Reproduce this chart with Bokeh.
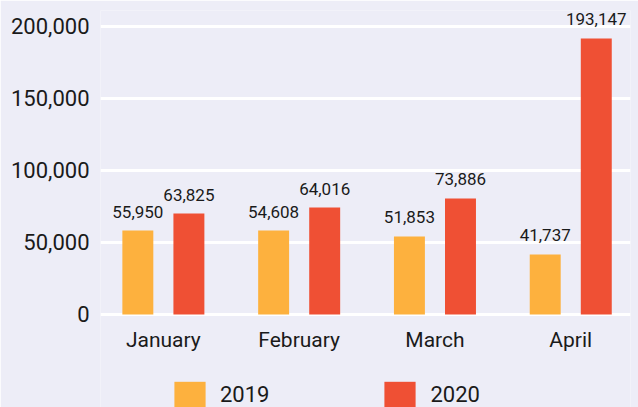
from bokeh.plotting import figure
from bokeh.models import (ColumnDataSource, Range1d, FixedTicker, Legend, LegendItem,
                          NumeralTickFormatter, LabelSet)
from bokeh.core.properties import value
from bokeh.embed import file_html
from bokeh.resources import INLINE

months = ["January", "February", "March", "April"]
years = ["2019", "2020"]
# bar heights as drawn in the reference
bars_2019 = [58300, 58300, 54200, 41700]
bars_2020 = [70100, 74300, 80600, 191700]
# value labels as printed in the reference
labels_2019 = ["55,950", "54,608", "51,853", "41,737"]
labels_2020 = ["63,825", "64,016", "73,886", "193,147"]
y_ticks = [0, 50000, 100000, 150000, 200000]

BG = "#EDEDF7"
C2019 = "#FDB13E"
C2020 = "#EF5034"
TXT = "#1A1A1A"
FONT = "Roboto"

idx = list(range(len(months)))
off = 0.188
w = 0.228

src19 = ColumnDataSource(dict(x=[i - off for i in idx], top=bars_2019, lab=labels_2019))
src20 = ColumnDataSource(dict(x=[i + off for i in idx], top=bars_2020, lab=labels_2020))
srcm = ColumnDataSource(dict(x=idx, y=[0] * len(idx), lab=months))

p = figure(width=638, height=407, output_backend="svg", toolbar_location=None,
           x_range=Range1d(-0.463, 3.44), y_range=Range1d(-64580, 211100),
           x_axis_location=None,
           min_border_left=100, min_border_right=8, min_border_top=10, min_border_bottom=0,
           background_fill_color=BG, border_fill_color=BG)
p.outline_line_color = None

r19 = p.vbar(x="x", top="top", width=w, source=src19, color=C2019, line_color=None)
r20 = p.vbar(x="x", top="top", width=w, source=src20, color=C2020, line_color=None)

for s in (src19, src20):
    p.add_layout(LabelSet(x="x", y="top", text="lab", source=s, text_align="center",
                          text_baseline="bottom", y_offset=13, text_font=value(FONT),
                          text_font_size="17px", text_color=TXT))

# month (category) labels under the baseline
p.add_layout(LabelSet(x="x", y="y", text="lab", source=srcm, text_align="center",
                      text_baseline="top", y_offset=-14, text_font=value(FONT),
                      text_font_size="21px", text_color=TXT))

p.xgrid.grid_line_color = None
p.ygrid.grid_line_color = "white"
p.ygrid.grid_line_width = 3
p.ygrid.ticker = FixedTicker(ticks=y_ticks)

p.yaxis.ticker = FixedTicker(ticks=y_ticks)
p.yaxis.formatter = NumeralTickFormatter(format="0,0")
p.yaxis.axis_line_color = None
p.yaxis.major_tick_line_color = None
p.yaxis.minor_tick_line_color = None
p.yaxis.major_tick_out = 0
p.yaxis.major_label_standoff = 11
p.yaxis.major_label_text_font = FONT
p.yaxis.major_label_text_font_size = "22px"
p.yaxis.major_label_text_color = TXT

legend = Legend(items=[LegendItem(label=years[0], renderers=[r19]),
                       LegendItem(label=years[1], renderers=[r20])],
                location=(70, -4), orientation="horizontal",
                glyph_width=39, glyph_height=33, label_standoff=11, spacing=111,
                padding=0, margin=0, border_line_color=None, background_fill_alpha=0,
                label_text_font=FONT, label_text_font_size="22px", label_text_color=TXT)
p.add_layout(legend, "center")

open("out.html", "w").write(file_html(p, INLINE))
